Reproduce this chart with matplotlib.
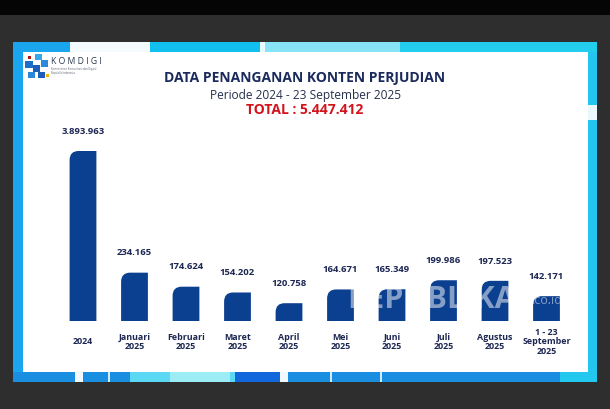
import numpy as np
import matplotlib
matplotlib.use("Agg")
import matplotlib.pyplot as plt
from matplotlib.patches import Rectangle, PathPatch
from matplotlib.path import Path
from matplotlib.transforms import IdentityTransform

# data
categories = ["2024", "Januari\n2025", "Februari\n2025", "Maret\n2025", "April\n2025",
              "Mei\n2025", "Juni\n2025", "Juli\n2025", "Agustus\n2025", "1 - 23\nSeptember\n2025"]
values = [3893963, 234165, 174624, 154202, 120758, 164671, 165349, 199986, 197523, 142171]
value_labels = ["3.893.963", "234.165", "174.624", "154.202", "120.758",
                "164.671", "165.349", "199.986", "197.523", "142.171"]
title = "DATA PENANGANAN KONTEN PERJUDIAN"
subtitle = "Periode 2024 - 23 September 2025"
total_text = "TOTAL : 5.447.412"

NAVY = "#0b3f8f"
TEXT = "#1d2752"
FONT = "Open Sans"

W, H = 610, 409
fig = plt.figure(figsize=(W / 100, H / 100), dpi=100)
fig.patch.set_facecolor("#2e2e2e")

# background / slide frame, in pixel coords (y down)
bg = fig.add_axes([0, 0, 1, 1])
bg.set_xlim(0, W)
bg.set_ylim(H, 0)
bg.axis("off")


def box(x0, y0, x1, y1, c, z=1):
    bg.add_patch(Rectangle((x0, y0), x1 - x0, y1 - y0, color=c, lw=0, zorder=z))


box(0, 0, W, 15, "#050505")
box(13, 42, 597, 382, "#1aa6ee")
# top strip
box(70, 42, 150, 52, "#f4fbff", 2)
box(150, 42, 260, 52, "#12c0f0", 2)
box(260, 42, 265, 52, "#e8fbff", 2)
box(265, 42, 400, 52, "#86e4f6", 2)
box(400, 42, 597, 52, "#22cdee", 2)
# right strip
box(588, 52, 597, 382, "#22c6ee", 2)
box(588, 105, 597, 120, "#e8f8fb", 3)
# bottom strip
box(13, 372, 597, 382, "#1a8fe2", 2)
box(75, 372, 83, 382, "#f2f8ff", 3)
box(108, 372, 110, 382, "#d0ecff", 3)
box(130, 372, 235, 382, "#5ad8f4", 3)
box(170, 372, 230, 382, "#9cedf6", 3)
box(235, 372, 280, 382, "#1068dc", 3)
box(280, 372, 288, 382, "#f2f8ff", 3)
box(330, 372, 332, 382, "#d0ecff", 3)
box(380, 372, 382, 382, "#d0ecff", 3)
box(560, 372, 597, 382, "#22c8ee", 3)
# white panel
box(23, 52, 588, 372, "white", 4)

# logo
logo = [(28, 56, 3, 3, "#b3121d"), (35, 54, 7, 6, "#3aa6ea"), (25, 61, 8, 7, "#1c6fc9"),
        (41, 60, 7, 7, "#2c8ad8"), (33, 65, 7, 7, "#1b5fb8"), (28, 72, 7, 6, "#2a86d6"),
        (38, 72, 7, 6, "#1b5fb8"), (46, 74, 3, 3, "#f5b400")]
for lx, ly, lw_, lh, lc in logo:
    box(lx, ly, lx + lw_, ly + lh, lc, 5)
bg.text(51, 62, "K O M D I G I", fontsize=6.2, color="#2a3850", family=FONT,
        va="center", ha="left", zorder=6)
bg.text(51, 71, "Kementerian Komunikasi dan Digital\nRepublik Indonesia", fontsize=1.9,
        color="#55606e", family=FONT, va="center", ha="left", zorder=6, linespacing=1.2)

# titles
bg.text(305, 78, title, fontsize=10, fontweight="bold", color="#1b2a5c",
        family=FONT, ha="center", va="center", zorder=6)
bg.text(305, 95, subtitle, fontsize=8.6, color="#26304f", family=FONT,
        ha="center", va="center", zorder=6)
bg.text(305, 110, total_text, fontsize=10, fontweight="bold", color="#d3141d",
        family=FONT, ha="center", va="center", zorder=6)

# chart axes, baseline at y=321 px, tallest bar top at y=151 px
base_px, top_px = 321, 151
ax = fig.add_axes([57.25 / W, (H - base_px) / H, 515 / W, (base_px - top_px) / H])
ax.patch.set_alpha(0)
ax.set_zorder(5)

# compressed value scale (slide bars are not drawn to linear scale)
c0, s0 = 72000.0, 105000.0
ax.set_yscale("function", functions=(lambda v: np.arcsinh((v - c0) / s0),
                                     lambda u: np.sinh(u) * s0 + c0))
x = np.arange(len(values))
bars = ax.bar(x, np.array(values) - c0, bottom=c0, width=0.52, color=NAVY)
ax.set_xlim(-0.5, len(values) - 0.5)
ax.set_ylim(c0, max(values))
for s in ax.spines.values():
    s.set_visible(False)
ax.set_yticks([])
ax.set_xticks(x)
ax.set_xticklabels(categories, fontsize=6.4, fontweight="bold", color=TEXT,
                   family=FONT, linespacing=1.05)
for t in ax.get_xticklabels():
    t.set_va("center")
ax.tick_params(axis="x", length=0, pad=15)

# replace rectangles by bars with a rounded top-left corner
fig.canvas.draw()
for b in bars:
    (x0, y0), (x1, y1) = ax.transData.transform(
        [(b.get_x(), c0), (b.get_x() + b.get_width(), b.get_y() + b.get_height())])
    r = min(9.0, y1 - y0)
    verts = [(x0, y0), (x0, y1 - r), (x0, y1), (x0 + r, y1), (x1, y1), (x1, y0), (x0, y0)]
    codes = [Path.MOVETO, Path.LINETO, Path.CURVE3, Path.CURVE3,
             Path.LINETO, Path.LINETO, Path.CLOSEPOLY]
    fig.add_artist(PathPatch(Path(verts, codes), transform=IdentityTransform(),
                             facecolor=NAVY, lw=0, zorder=6))
    b.set_visible(False)

for xi, v, lab in zip(x, values, value_labels):
    ax.annotate(lab, (xi, v), xytext=(0, 11), textcoords="offset points",
                ha="center", va="bottom", fontsize=6.8, fontweight="bold",
                color=TEXT, family=FONT, annotation_clip=False)

# photo watermark
fig.text(432 / W, 1 - 300 / H, "REPUBLIKA", fontsize=22, fontweight="bold",
         family=FONT, color="white", alpha=0.5, ha="center", va="center", zorder=7)
fig.text(547 / W, 1 - 300 / H, ".co.id", fontsize=9, family=FONT,
         color="white", alpha=0.5, ha="center", va="center", zorder=7)

fig.savefig("out.png", dpi=100, facecolor=fig.get_facecolor())
